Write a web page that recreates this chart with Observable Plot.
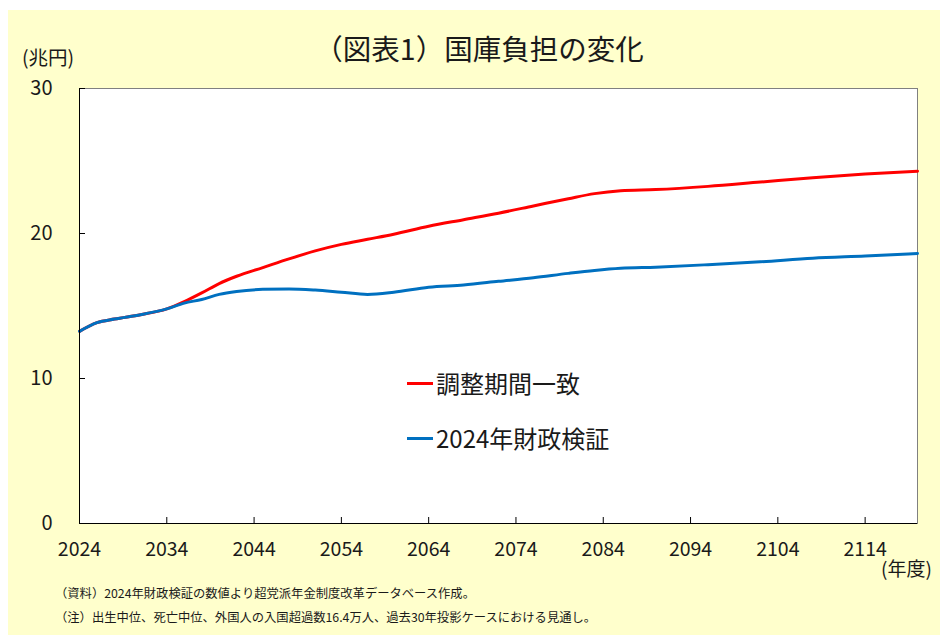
<!DOCTYPE html>
<html><head><meta charset="utf-8">
<script src="https://cdn.jsdelivr.net/npm/d3@7"></script>
<script src="https://cdn.jsdelivr.net/npm/@observablehq/plot@0.6"></script>
<style>
body{margin:0;background:#fff;font-family:"Noto Sans CJK JP",sans-serif;width:940px;height:635px;overflow:hidden;}
#panel{position:absolute;left:8px;top:10px;width:932px;height:625px;background:#FFFFCC;}
.abs{position:absolute;white-space:nowrap;color:#1a1a1a;}
#chart{position:absolute;left:0;top:40px;}
.lg{position:absolute;display:flex;align-items:center;font-size:24px;line-height:30px;color:#1a1a1a;white-space:nowrap;}
.sw{display:inline-block;width:26px;height:3px;margin-right:3px;}
</style></head><body>
<div id="panel"></div>
<div id="chart"></div>
<div class="abs" style="left:0;width:958px;top:29px;text-align:center;font-size:28.5px;line-height:38px;">（図表1）国庫負担の変化</div>
<div class="abs" style="left:22px;top:45px;font-size:19.5px;line-height:24px;">(兆円)</div>
<div class="abs" style="left:881px;top:556px;font-size:19px;line-height:24px;">(年度)</div>
<div class="abs" style="left:55px;top:585px;font-size:12.3px;line-height:16px;">（資料）2024年財政検証の数値より超党派年金制度改革データベース作成。</div>
<div class="abs" style="left:55px;top:609px;font-size:12.3px;line-height:16px;">（注）出生中位、死亡中位、外国人の入国超過数16.4万人、過去30年投影ケースにおける見通し。</div>
<div id="legend"></div>
<script>
const years = [2024, 2026, 2028, 2031, 2034, 2036, 2038, 2040, 2042, 2045, 2048, 2051, 2054, 2057, 2060, 2064, 2068, 2072, 2076, 2080, 2083, 2086, 2090, 2096, 2102, 2108, 2114, 2120];
const choseiValues = [13.25, 13.85, 14.1, 14.4, 14.8, 15.3, 15.9, 16.55, 17.05, 17.65, 18.25, 18.8, 19.25, 19.6, 19.95, 20.5, 20.95, 21.4, 21.9, 22.4, 22.75, 22.95, 23.03, 23.25, 23.55, 23.85, 24.1, 24.3];
const zaiseiValues = [13.25, 13.85, 14.1, 14.4, 14.8, 15.2, 15.45, 15.8, 16.0, 16.15, 16.18, 16.1, 15.95, 15.8, 15.95, 16.3, 16.45, 16.7, 16.95, 17.25, 17.45, 17.6, 17.68, 17.85, 18.05, 18.3, 18.45, 18.62];
const seriesNames = ["調整期間一致", "2024年財政検証"];
const seriesColors = ["#FF0000", "#0070C0"];
const xTicks = [2024, 2034, 2044, 2054, 2064, 2074, 2084, 2094, 2104, 2114];
const yTicks = [0, 10, 20, 30];
const xDomain = [2024, 2120];
const yDomain = [0, 30];

const data = years.flatMap((yr, i) => [
  {year: yr, value: choseiValues[i], series: seriesNames[0]},
  {year: yr, value: zaiseiValues[i], series: seriesNames[1]}
]);

const W = 940, H = 545, ML = 79, MR = 23, MT = 48, MB = 62, TICK = 6;
const chart = Plot.plot({
  width: W, height: H,
  marginLeft: ML, marginRight: MR, marginTop: MT, marginBottom: MB,
  style: {background: "transparent", fontFamily: "Noto Sans CJK JP", color: "#1a1a1a", overflow: "visible"},
  x: {domain: xDomain},
  y: {domain: yDomain},
  color: {domain: seriesNames, range: seriesColors},
  marks: [
    Plot.frame({fill: "white", stroke: "#808080"}),
    Plot.line(data, {x: "year", y: "value", stroke: "series", strokeWidth: 3, curve: "monotone-x"}),
    Plot.axisY(yTicks, {tickSize: 0, tickPadding: 27, textAnchor: "end", fontSize: 20, label: null}),
    Plot.axisX(xTicks, {tickSize: 0, tickPadding: 19, fontSize: 19.5, tickFormat: d => String(d), label: null}),
    Plot.tickY(yTicks, {y: d => d, insetRight: W - ML - MR - TICK, stroke: "#000"}),
    Plot.tickX(xTicks, {x: d => d, insetTop: H - MT - MB - TICK, stroke: "#000"}),
    Plot.ruleX([xDomain[0]], {stroke: "#000"}),
    Plot.ruleY([yDomain[0]], {stroke: "#000"})
  ]
});
document.getElementById("chart").append(chart);

const legend = document.getElementById("legend");
const legendTops = [368, 423];
seriesNames.forEach((name, i) => {
  const row = document.createElement("div");
  row.className = "lg";
  row.style.left = "407px";
  row.style.top = legendTops[i] + "px";
  const sw = document.createElement("span");
  sw.className = "sw";
  sw.style.background = seriesColors[i];
  row.append(sw, document.createTextNode(name));
  legend.append(row);
});
</script>
</body></html>
